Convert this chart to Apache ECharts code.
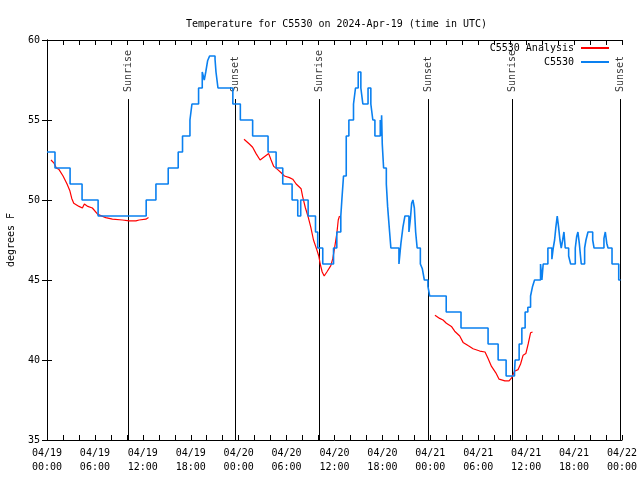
<!DOCTYPE html>
<html>
<head>
<meta charset="utf-8">
<script src="https://cdn.jsdelivr.net/npm/echarts@6/dist/echarts.min.js"></script>
<style>html,body{margin:0;padding:0;background:#fff}#c{width:640px;height:480px}</style>
</head>
<body>
<div id="c"></div>
<script>
// hours since 2024-04-19 00:00 UTC
var tickLabels = ['04/19\n00:00','04/19\n06:00','04/19\n12:00','04/19\n18:00','04/20\n00:00','04/20\n06:00','04/20\n12:00','04/20\n18:00','04/21\n00:00','04/21\n06:00','04/21\n12:00','04/21\n18:00','04/22\n00:00'];

// C5530 observations: [hour, degF] (value holds until next entry)
var obsHours = [0.00,1.00,2.89,4.39,6.40,12.42,13.64,15.18,16.43,16.97,17.90,18.15,18.98,19.44,19.69,19.88,20.11,20.36,21.04,21.16,21.41,23.27,24.21,25.75,27.68,28.69,29.52,30.69,31.40,31.77,32.70,33.62,33.90,34.53,35.88,36.29,36.79,36.92,37.13,37.47,37.80,38.38,38.63,38.97,39.30,39.55,40.20,40.55,40.80,41.06,41.73,41.83,41.90,41.98,42.15,42.49,42.65,42.90,43.06,44.07,44.32,44.57,44.82,45.32,45.50,45.66,45.82,46.00,46.16,46.35,46.75,47.00,47.25,47.70,47.92,49.99,51.84,55.23,56.49,57.49,58.54,58.62,59.12,59.46,59.87,60.21,60.55,60.80,61.05,61.80,61.97,62.13,62.72,63.22,63.39,63.56,63.72,63.89,64.06,64.23,64.39,64.57,64.73,64.89,65.32,65.57,66.15,66.32,66.48,66.65,66.90,67.32,67.49,67.74,68.33,68.50,69.74,69.91,70.09,70.25,70.75,71.59,71.82];
var obsTemps = [53,52,51,50,49,50,51,52,53,54,55,56,57,58,57.5,58,58.7,59,58.8,58,57,56,55,54,53,52,51,50,49,50,49,48,47,46,47,48,49,50,51.5,54,55,56,57,58,57,56,57,56,55,54,55,54,55.3,53.5,52,51,49.6,48,47,46,47.3,48.3,49,48,48.8,49.8,50,49.5,48,47,46,45.7,45,44.6,44,43,42,41,40,39,39.3,40,41,42,43,43.3,44,44.6,45,46,45,46,47,46.3,47,47.5,48.3,49,48.3,47.5,47,47.5,48,47,46.5,46,47,47.7,48,47.3,46,47,47.5,48,47.5,47,47.6,48,47.3,47,46,45,45];

// C5530 Analysis, three runs
var anaHours1 = [0.50,0.88,1.17,1.51,1.76,2.01,2.51,2.85,3.10,3.35,3.51,4.01,4.43,4.68,5.11,5.68,5.93,6.36,6.61,7.36,8.19,9.45,10.29,11.13,11.54,12.38,12.71];
var anaTemps1 = [52.5,52.3,52.0,51.9,51.8,51.5,51.0,50.6,50.1,49.8,49.7,49.6,49.5,49.75,49.6,49.5,49.4,49.1,49.0,48.9,48.8,48.75,48.7,48.7,48.75,48.8,48.9];
var anaHours2 = [24.67,25.34,25.75,26.18,26.68,27.22,27.76,28.06,28.39,28.89,29.32,29.73,30.36,30.77,31.20,31.82,32.02,32.36,32.70,33.03,33.37,33.78,34.03,34.21,34.46,34.71,35.04,35.54,35.79,36.04,36.29,36.47,36.63];
var anaTemps2 = [53.8,53.5,53.3,52.9,52.5,52.7,52.9,52.5,52.1,51.9,51.7,51.5,51.4,51.3,51.0,50.7,50.2,49.5,48.95,48.3,47.5,46.9,46.5,46.0,45.5,45.25,45.5,45.9,46.35,47.1,47.9,48.75,49.0];
var anaHours3 = [48.58,49.17,49.59,50.01,50.64,51.05,51.68,52.10,52.72,53.35,54.19,54.85,55.23,55.66,56.20,56.61,57.33,57.86,58.20,58.54,58.99,59.30,59.62,59.96,60.25,60.55,60.80];
var anaTemps3 = [42.8,42.6,42.5,42.3,42.1,41.8,41.5,41.1,40.9,40.7,40.56,40.5,40.1,39.6,39.2,38.8,38.7,38.7,38.9,39.3,39.4,39.75,40.3,40.4,41.0,41.7,41.75];

// sun events
var sunHours = [10.20,23.62,34.12,47.70,58.24,71.84];
var sunLabels = ['Sunrise','Sunset','Sunrise','Sunset','Sunrise','Sunset'];
var sunLineTop = 56.31;

function zip(a,b){var r=[];for(var i=0;i<a.length;i++)r.push([a[i],b[i]]);return r;}

var FONT = 'DejaVu Sans Mono';
var RED = '#ff0000', BLUE = '#0a80f0';

var chart = echarts.init(document.getElementById('c'), null, {renderer:'canvas'});

function xAx(pos, showLabel){
  return {
    type:'value', position:pos, min:0, max:72, interval:6,
    axisLine:{show:true, onZero:false, lineStyle:{color:'#000', width:1}},
    axisTick:{show:true, inside:true, length:5, lineStyle:{color:'#000'}},
    minorTick:{show:true, splitNumber:3, length:5, lineStyle:{color:'#000'}},
    splitLine:{show:false},
    axisLabel:{show:showLabel, margin:6, fontFamily:FONT, fontSize:10, color:'#000', lineHeight:14,
      formatter:function(v){return tickLabels[Math.round(v/6)];}}
  };
}
function yAx(pos, showLabel){
  return {
    type:'value', position:pos, min:35, max:60, interval:5,
    name: showLabel ? 'degrees F' : '', nameLocation:'middle', nameGap:31, nameRotate:90,
    nameTextStyle:{fontFamily:FONT, fontSize:10, color:'#000'},
    axisLine:{show:true, lineStyle:{color:'#000', width:1}},
    axisTick:{show:true, inside:true, length:5, lineStyle:{color:'#000'}},
    splitLine:{show:false},
    axisLabel:{show:showLabel, margin:7, fontFamily:FONT, fontSize:10, color:'#000'}
  };
}

var sunLines = sunHours.map(function(h){return [{coord:[h,35]},{coord:[h,sunLineTop]}];});
var sunPts = sunHours.map(function(h,i){return {value:[h,sunLineTop], name:sunLabels[i]};});

var anaStyle = function(d){return {
  name:'C5530 Analysis', type:'line', data:d, showSymbol:false, symbol:'none',
  lineStyle:{color:RED, width:1.2}, itemStyle:{color:RED}, z:3, silent:true
};};

chart.setOption({
  animation:false,
  backgroundColor:'#fff',
  title:{text:'Temperature for C5530 on 2024-Apr-19 (time in UTC)', left:181, top:14,
    textStyle:{fontFamily:FONT, fontSize:10, fontWeight:'normal', color:'#000'}},
  legend:{orient:'vertical', right:26, top:38, align:'right', itemWidth:28, itemHeight:2, itemGap:4,
    icon:'rect', textStyle:{fontFamily:FONT, fontSize:10, color:'#000', padding:[0,2,0,0]},
    data:[{name:'C5530 Analysis', itemStyle:{color:RED}}, {name:'C5530', itemStyle:{color:BLUE}}]},
  grid:{left:47, right:18, top:40, bottom:40, containLabel:false, outerBoundsMode:'none'},
  xAxis:[xAx('bottom', true), xAx('top', false)],
  yAxis:[yAx('left', true), yAx('right', false)],
  series:[
    {type:'scatter', data:sunPts, symbolSize:0, silent:true, z:1,
     label:{show:true, formatter:'{b}', position:'inside', rotate:90, align:'left', verticalAlign:'middle',
       padding:[0,0,0,7], fontFamily:FONT, fontSize:10, color:'#000'},
     markLine:{silent:true, symbol:['none','none'], label:{show:false}, z:1,
       lineStyle:{color:'#000', width:1, type:'solid'}, data:sunLines}},
    anaStyle(zip(anaHours1, anaTemps1)),
    anaStyle(zip(anaHours2, anaTemps2)),
    anaStyle(zip(anaHours3, anaTemps3)),
    {name:'C5530', type:'line', step:'end', data:zip(obsHours, obsTemps), showSymbol:false, symbol:'none',
     lineStyle:{color:BLUE, width:1.6}, itemStyle:{color:BLUE}, z:4, silent:true}
  ]
});
</script>
</body>
</html>
